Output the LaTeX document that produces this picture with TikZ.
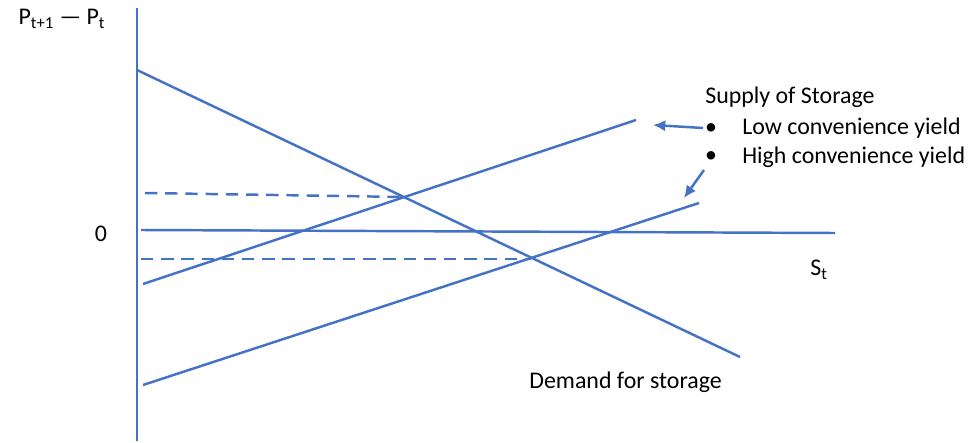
\documentclass[tikz,border=0pt]{standalone}
\usepackage{fontspec}
\setmainfont{Carlito}
\usetikzlibrary{arrows.meta}
\definecolor{chartblue}{RGB}{68,114,196}

\begin{document}
\begin{tikzpicture}[x=0.02cm,y=-0.02cm,
    curve/.style={chartblue,line width=1.4pt},
    guide/.style={chartblue,line width=1.4pt,dash pattern=on 7pt off 4.5pt},
    pointer/.style={chartblue,line width=1.4pt,-{Latex[length=7pt,width=6.5pt]}},
    lbl/.style={inner sep=0pt,font=\fontsize{13.6}{15}\selectfont}]
\useasboundingbox (0,0) rectangle (971,443);

% Axes
\coordinate (ytop) at (137,8);
\coordinate (ybot) at (137,441);
\draw[curve] (ytop) -- (ybot);
\coordinate (zl) at (141,230);
\coordinate (zr) at (835,233);
\draw[curve] (zl) -- (zr);
\node[lbl] (ylab) at (62,19) {P\textsubscript{t+1} — P\textsubscript{t}};
\node[lbl] (zero) at (101,234) {0};
\node[lbl] (xlab) at (819,270) {S\textsubscript{t}};

% Demand for storage
\coordinate (d1) at (137,70);
\coordinate (d2) at (740,357);
\draw[curve] (d1) -- (d2);
\node[lbl,anchor=west] (dlab) at (529,382) {Demand for storage};

% Supply of storage
\coordinate (lo1) at (143,284);
\coordinate (lo2) at (636,120);
\draw[curve] (lo1) -- (lo2);
\coordinate (hi1) at (143,385);
\coordinate (hi2) at (699,203);
\draw[curve] (hi1) -- (hi2);

% Equilibria
\coordinate (eqlo) at (404,197);
\coordinate (eqhi) at (531,259);
\draw[guide] (145,193) -- (eqlo);
\draw[guide] (141,259) -- (eqhi);

% Legend
\node[lbl,anchor=west] (slab) at (705,97) {Supply of Storage};
\node[lbl] (b1) at (711,129) {\textbullet};
\node[lbl] (b2) at (711,157) {\textbullet};
\node[lbl,anchor=west] (lowlab) at (742,128) {Low convenience yield};
\node[lbl,anchor=west] (highlab) at (742,157) {High convenience yield};
\coordinate (a1) at (653,125);
\coordinate (a2) at (684,198);
\draw[pointer] (703,128) -- (a1);
\draw[pointer] (704,170) -- (a2);
\end{tikzpicture}
\end{document}
